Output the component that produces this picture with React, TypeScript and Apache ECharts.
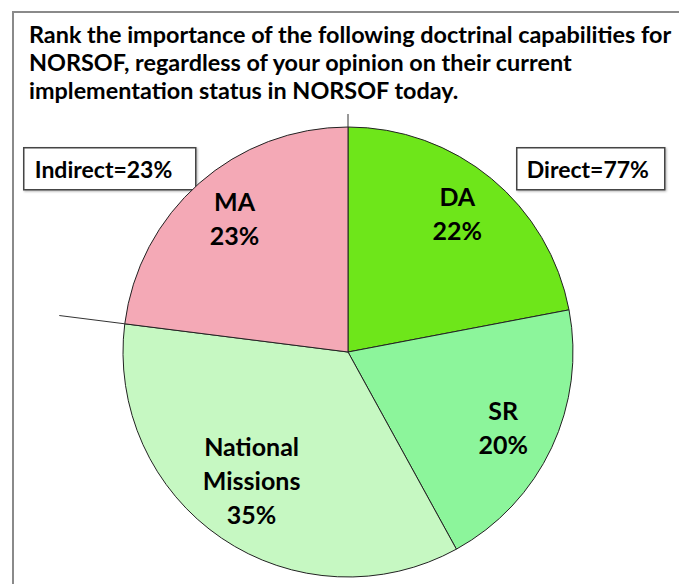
import React, { useEffect, useRef } from "react";
import * as echarts from "echarts";

const titleLines = [
  "Rank the importance of the following doctrinal capabilities for",
  "NORSOF, regardless of your opinion on their current",
  "implementation status in NORSOF today.",
];
const categories = ["DA", "SR", "National Missions", "MA"];
const values = [22, 20, 35, 23];
const colors = ["#6EE61A", "#8CF59B", "#C6F8C2", "#F4A9B6"];
const directGroup = ["DA", "SR", "National Missions"];
const indirectGroup = ["MA"];

const FONT = "Lato, 'Open Sans', sans-serif";
const labelNudgeY = [-7, 2, -14, -5];

export default function App() {
  const ref = useRef<HTMLDivElement>(null);
  useEffect(() => {
    if (!ref.current) return;
    const chart = echarts.init(ref.current, undefined, { renderer: "svg" });
    const cx = 348;
    const cy = 352;
    const R = 225;
    const total = values.reduce((a, b) => a + b, 0);
    const sumOf = (g: string[]) =>
      categories.reduce((s, c, i) => (g.includes(c) ? s + values[i] : s), 0);
    const directPct = Math.round((sumOf(directGroup) / total) * 100);
    const indirectPct = Math.round((sumOf(indirectGroup) / total) * 100);

    const startDeg = 90;
    const directEndDeg = startDeg - (sumOf(directGroup) / total) * 360;
    const ray = (deg: number, r: number) => {
      const a = (deg * Math.PI) / 180;
      return [cx + r * Math.cos(a), cy - r * Math.sin(a)];
    };
    const [v1x, v1y] = ray(startDeg, R);
    const [v2x, v2y] = ray(startDeg, R + 13);
    const [h1x, h1y] = ray(directEndDeg, R);
    const [h2x, h2y] = ray(directEndDeg, 291);

    const data = categories.map((c, i) => ({
      name: c,
      value: values[i],
      itemStyle: { color: colors[i] },
    }));

    const boxText = {
      fontFamily: FONT,
      fontWeight: "bold",
      fontSize: 23,
      fill: "#000",
      verticalAlign: "middle",
      align: "left",
    };
    const boxRect = {
      fill: "#fff",
      stroke: "#444",
      lineWidth: 1.5,
      shadowBlur: 2,
      shadowOffsetX: 1,
      shadowOffsetY: 1,
      shadowColor: "rgba(0,0,0,0.3)",
    };

    chart.setOption({
      animation: false,
      backgroundColor: "#ffffff",
      title: {
        text: titleLines.join("\n"),
        left: 29,
        top: 20,
        padding: 0,
        textStyle: {
          fontFamily: FONT,
          fontWeight: "bold",
          fontSize: 23.4,
          lineHeight: 28,
          color: "#000",
        },
      },
      series: [
        {
          type: "pie",
          center: [cx, cy],
          radius: [0, R],
          startAngle: startDeg,
          clockwise: true,
          silent: true,
          label: { show: false },
          labelLine: { show: false },
          itemStyle: { borderColor: "#222", borderWidth: 1 },
          data,
          z: 2,
        },
        {
          type: "pie",
          center: [cx, cy],
          radius: [112, R],
          startAngle: startDeg,
          clockwise: true,
          silent: true,
          itemStyle: { color: "rgba(0,0,0,0)", borderWidth: 0 },
          label: {
            show: true,
            position: "inside",
            fontFamily: FONT,
            fontWeight: "bold",
            fontSize: 25,
            lineHeight: 34,
            color: "#000",
            formatter: (p: any) => p.name.replace(" ", "\n") + "\n" + p.value + "%",
          },
          labelLayout: (p: any) => ({ dy: labelNudgeY[p.dataIndex] || 0 }),
          labelLine: { show: false },
          data: categories.map((c, i) => ({ name: c, value: values[i] })),
          z: 3,
        },
      ],
      graphic: [
        {
          type: "rect",
          shape: { x: 13, y: 12, width: 720, height: 620 },
          style: { fill: "none", stroke: "#8a8a8a", lineWidth: 2 },
          silent: true,
          z: 0,
        },
        {
          type: "line",
          shape: { x1: v1x, y1: v1y, x2: v2x, y2: v2y },
          style: { stroke: "#333", lineWidth: 1 },
          silent: true,
          z: 10,
        },
        {
          type: "line",
          shape: { x1: h1x, y1: h1y, x2: h2x, y2: h2y },
          style: { stroke: "#333", lineWidth: 1 },
          silent: true,
          z: 10,
        },
        {
          type: "group",
          left: 23,
          top: 147,
          z: 10,
          children: [
            { type: "rect", shape: { x: 0, y: 0, width: 172, height: 42 }, style: boxRect },
            {
              type: "text",
              x: 11,
              y: 21,
              style: { ...boxText, text: "Indirect=" + indirectPct + "%" },
            },
          ],
        },
        {
          type: "group",
          left: 516,
          top: 147,
          z: 10,
          children: [
            { type: "rect", shape: { x: 0, y: 0, width: 148, height: 42 }, style: boxRect },
            {
              type: "text",
              x: 10,
              y: 21,
              style: { ...boxText, text: "Direct=" + directPct + "%" },
            },
          ],
        },
      ],
    });
    return () => chart.dispose();
  }, []);
  return (
    <div
      ref={ref}
      style={{ position: "fixed", left: 0, top: 0, width: 679, height: 584, background: "#fff" }}
    />
  );
}
